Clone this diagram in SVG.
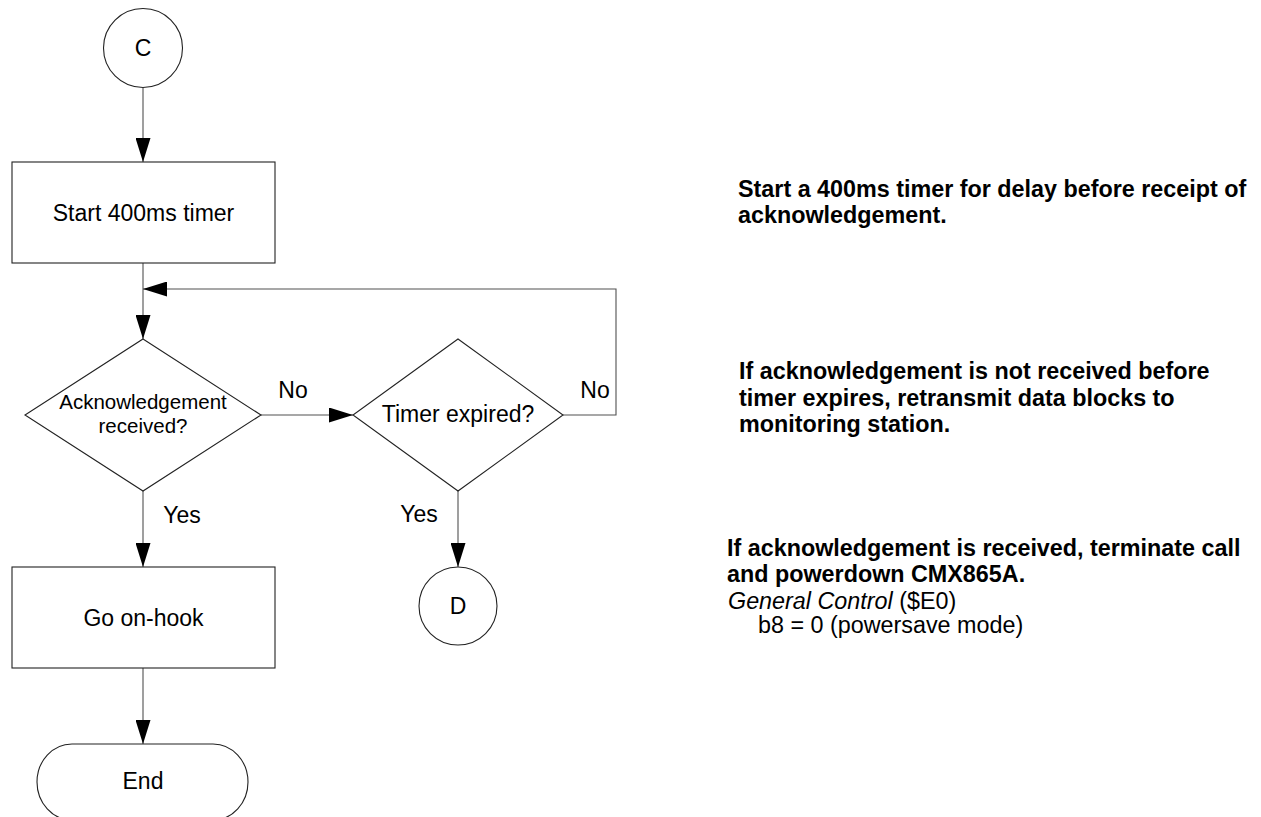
<svg xmlns="http://www.w3.org/2000/svg" width="1261" height="817" viewBox="0 0 1261 817">
<defs>
<style>
.shape{fill:#ffffff;stroke:#222222;stroke-width:1.1}
.conn{fill:none;stroke:#505050;stroke-width:1.1}
.t{font-family:"Liberation Sans",Arial,sans-serif;font-size:23px;fill:#000;text-anchor:middle}
.ts{font-size:20.5px}
.note{font-family:"Liberation Sans",Arial,sans-serif;font-size:23.33px;fill:#000}
.b{font-weight:bold}
</style>
<marker id="ah" markerUnits="userSpaceOnUse" markerWidth="24" markerHeight="15" refX="24" refY="7.5" orient="auto">
<path d="M0,0 L24,7.5 L0,15 z" fill="#000"/>
</marker>
</defs>
<rect width="1261" height="817" fill="#ffffff"/>
<g id="connectors">
<path class="conn" d="M143,87.5 V162" marker-end="url(#ah)"/>
<path class="conn" d="M143,263 V339" marker-end="url(#ah)"/>
<path class="conn" d="M563,415 H616 V289 H143" marker-end="url(#ah)"/>
<path class="conn" d="M261,415 H353" marker-end="url(#ah)"/>
<path class="conn" d="M143,491 V567" marker-end="url(#ah)"/>
<path class="conn" d="M458,491 V567" marker-end="url(#ah)"/>
<path class="conn" d="M143,668 V744" marker-end="url(#ah)"/>
<text class="t" x="293" y="398">No</text>
<text class="t" x="595" y="398">No</text>
<text class="t" x="182" y="523">Yes</text>
<text class="t" x="419" y="522">Yes</text>
</g>
<g id="nodeC">
<circle class="shape" cx="143" cy="48" r="39.5"/>
<text class="t" x="143" y="56">C</text>
</g>
<g id="nodeStart">
<rect class="shape" x="12" y="162" width="263" height="101"/>
<text class="t" x="143.5" y="221">Start 400ms timer</text>
</g>
<g id="nodeAck">
<polygon class="shape" points="143,339 261,415 143,491 25,415"/>
<text class="t ts" x="143" y="409">Acknowledgement</text>
<text class="t ts" x="143" y="433">received?</text>
</g>
<g id="nodeTimer">
<polygon class="shape" points="458,339 563,415 458,491 353,415"/>
<text class="t" x="458" y="422">Timer expired?</text>
</g>
<g id="nodeHook">
<rect class="shape" x="12" y="567" width="263" height="101"/>
<text class="t" x="143.5" y="626">Go on-hook</text>
</g>
<g id="nodeD">
<circle class="shape" cx="458" cy="606" r="39"/>
<text class="t" x="458" y="614">D</text>
</g>
<g id="nodeEnd">
<rect class="shape" x="37" y="744" width="211" height="76" rx="35" ry="38"/>
<text class="t" x="143" y="789">End</text>
</g>
<g id="notes">
<text class="note b" x="738" y="197">Start a 400ms timer for delay before receipt of</text>
<text class="note b" x="738" y="223">acknowledgement.</text>
<text class="note b" x="739" y="379">If acknowledgement is not received before</text>
<text class="note b" x="739" y="406">timer expires, retransmit data blocks to</text>
<text class="note b" x="739" y="432">monitoring station.</text>
<text class="note b" x="727" y="556">If acknowledgement is received, terminate call</text>
<text class="note b" x="727" y="582">and powerdown CMX865A.</text>
<text class="note" x="728" y="609"><tspan font-style="italic">General Control</tspan> ($E0)</text>
<text class="note" x="758" y="633">b8 = 0 (powersave mode)</text>
</g>
</svg>
